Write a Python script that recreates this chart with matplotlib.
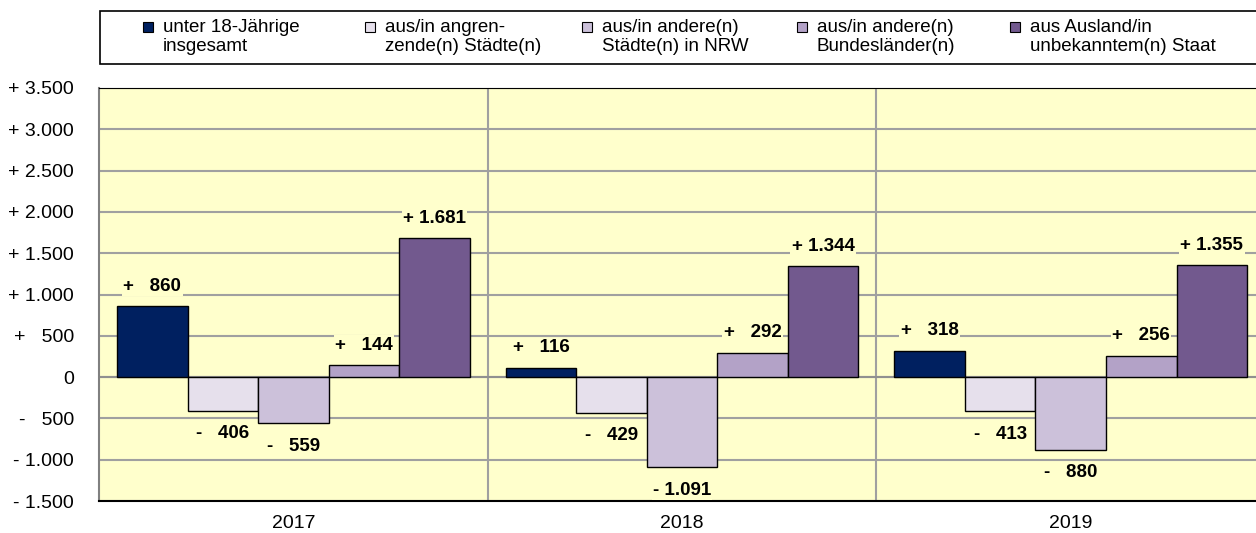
import numpy as np
import matplotlib
matplotlib.use("Agg")
import matplotlib.pyplot as plt
from matplotlib.patches import Rectangle

plt.rcParams['font.family'] = ['Liberation Sans', 'DejaVu Sans']

######################################################
# Data
######################################################

years = ["2017", "2018", "2019"]
series_names = ["unter 18-Jährige\ninsgesamt",
                "aus/in angren-\nzende(n) Städte(n)",
                "aus/in andere(n)\nStädte(n) in NRW",
                "aus/in andere(n)\nBundesländer(n)",
                "aus Ausland/in\nunbekanntem(n) Staat"]
total_u18 = [860, 116, 318]
neighbour_cities = [-406, -429, -413]
other_nrw = [-559, -1091, -880]
other_states = [144, 292, 256]
abroad = [1681, 1344, 1355]
y_ticks = list(range(-1500, 3501, 500))

series = [total_u18, neighbour_cities, other_nrw, other_states, abroad]
colors = ["#002060", "#E6E0EC", "#CCC1DA", "#B3A2C7", "#72598E"]
facecolor = "#FFFFCC"


def fmt(v):
    """German number with sign, padded like the excel format"""
    if v == 0:
        return "0"
    sign = "+" if v > 0 else "-"
    s = f"{abs(v):,}".replace(",", ".")
    if abs(v) < 1000:
        return f"{sign}   {s}"
    return f"{sign} {s}"


######################################################
# Plot
######################################################

W, H = 1256, 533
fig = plt.figure(figsize=(W / 100, H / 100), dpi=100)
ax = fig.add_axes([99 / W, (H - 501) / H, (W - 99) / W, (501 - 88) / H])
ax.set_facecolor(facecolor)

x = np.arange(len(years))
bw = 0.1815
for i, (vals, c) in enumerate(zip(series, colors)):
    pos = x + (i - 2) * bw
    ax.bar(pos, vals, width=bw, color=c, edgecolor="black", linewidth=1, zorder=3)
    for p, v in zip(pos, vals):
        off = 20 if v > 0 else -23
        ax.annotate(fmt(v), xy=(p, v), xytext=(0, off * 0.72), textcoords="offset points",
                    ha="center", va="center", fontsize=13.5, fontweight="bold", zorder=5,
                    bbox=dict(facecolor=facecolor, edgecolor="none", pad=1))

ax.set_xlim(-0.5, -0.5 + (W - 99) / 388.7)
ax.set_ylim(-1500, 3500)
ax.set_yticks(y_ticks)
ax.set_yticklabels([fmt(t) for t in y_ticks], fontsize=14)
ax.set_xticks(x)
ax.set_xticklabels(years, fontsize=14)
ax.tick_params(axis="y", length=0, pad=18)
ax.tick_params(axis="x", length=0, pad=10)

ax.grid(axis="y", color="#A0A0A0", linewidth=1.5, zorder=1)
for sep in x[:-1] + 0.5:
    ax.axvline(sep, color="#A0A0A0", linewidth=1.5, zorder=1)
ax.axhline(0, color="#909090", linewidth=1.5, zorder=2)

ax.spines["right"].set_visible(False)
ax.spines["top"].set_color("black")
ax.spines["bottom"].set_color("black")
ax.spines["bottom"].set_linewidth(1.5)
ax.spines["left"].set_color("#808080")
ax.spines["left"].set_linewidth(1.5)

# legend box drawn by hand to match the fixed excel column widths
fig.add_artist(Rectangle((100 / W, (H - 64) / H), (W - 98) / W, 53 / H,
                         transform=fig.transFigure, facecolor="white",
                         edgecolor="black", linewidth=1.2, clip_on=False))
col_x = [143, 365, 582, 797, 1010]
for cx, name, c in zip(col_x, series_names, colors):
    fig.add_artist(Rectangle((cx / W, (H - 32) / H), 10 / W, 10 / H,
                             transform=fig.transFigure, facecolor=c,
                             edgecolor="black", linewidth=0.8))
    fig.text((cx + 20) / W, (H - 37) / H, name, fontsize=13.5, va="center",
             ha="left", linespacing=1.2)

fig.savefig("out.png", dpi=100)
